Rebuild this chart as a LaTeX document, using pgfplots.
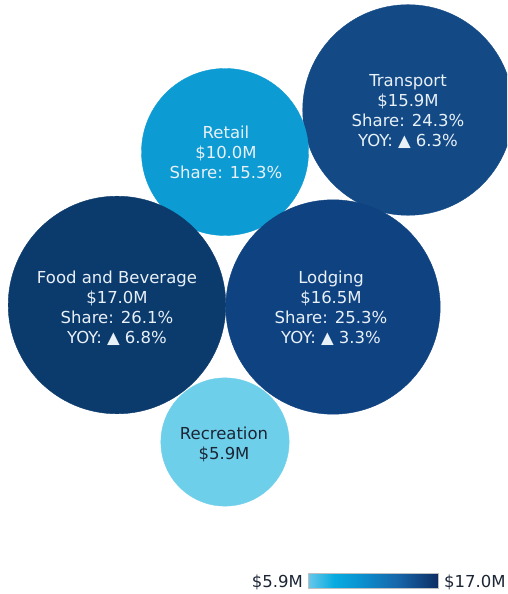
\documentclass[border=0pt]{standalone}
\usepackage{pgfplots}
\pgfplotsset{compat=1.18}
\usepackage{fontspec}
\setmainfont{DejaVu Sans}
\definecolor{cFood}{HTML}{0B3A6C}
\definecolor{cTrans}{HTML}{134A85}
\definecolor{cLodg}{HTML}{0F4280}
\definecolor{cRetail}{HTML}{0C9BD3}
\definecolor{cRec}{HTML}{6ECFEA}
\definecolor{txtL}{HTML}{E8F0F8}
\definecolor{txtD}{HTML}{1B2535}
\newcommand{\lbl}{\fontsize{16.5}{20}\selectfont}
\begin{document}
\begin{tikzpicture}
\useasboundingbox (0,0) rectangle (507pt,594pt);
\begin{axis}[at={(0,0)}, anchor=south west, scale only axis,
  width=507pt, height=594pt, xmin=0, xmax=507, ymin=0, ymax=594,
  hide axis, clip marker paths=true,
  colormap={bub}{rgb255(0)=(105,200,234) rgb255(2)=(8,172,224) rgb255(4)=(10,146,208) rgb255(7)=(22,100,168) rgb255(10)=(14,46,100)},
  point meta min=5.9, point meta max=17.0,
  colorbar horizontal,
  colorbar style={at={(0.6075,0.0101)}, anchor=south west, scale only axis,
    width=130pt, height=15pt, xtick=\empty, xticklabels={},
    axis line style={draw=black!25}}]
\addplot[cTrans, only marks, mark=*, mark size=105.3pt, mark options={draw=none, fill=cTrans}] coordinates {(408,484)};
\addplot[cRetail, only marks, mark=*, mark size=83.5pt, mark options={draw=none, fill=cRetail}] coordinates {(225,442)};
\addplot[cFood, only marks, mark=*, mark size=108.8pt, mark options={draw=none, fill=cFood}] coordinates {(117,289)};
\addplot[cLodg, only marks, mark=*, mark size=107.2pt, mark options={draw=none, fill=cLodg}] coordinates {(333,287)};
\addplot[cRec, only marks, mark=*, mark size=64.1pt, mark options={draw=none, fill=cRec}] coordinates {(225,152)};
\node[text=txtL, align=center, font=\lbl] at (axis cs:408,482) {Transport\\\$15.9M\\Share: 24.3\%\\YOY: ▲ 6.3\%};
\node[text=txtL, align=center, font=\lbl] at (axis cs:226,442) {Retail\\\$10.0M\\Share: 15.3\%};
\node[text=txtL, align=center, font=\lbl] at (axis cs:117,286) {Food and Beverage\\\$17.0M\\Share: 26.1\%\\YOY: ▲ 6.8\%};
\node[text=txtL, align=center, font=\lbl] at (axis cs:331,286) {Lodging\\\$16.5M\\Share: 25.3\%\\YOY: ▲ 3.3\%};
\node[text=txtD, align=center, font=\lbl] at (axis cs:224,150) {Recreation\\\$5.9M};
\node[text=txtD, anchor=base east, font=\lbl, inner sep=0pt] at (axis cs:303,6) {\$5.9M};
\node[text=txtD, anchor=base west, font=\lbl, inner sep=0pt] at (axis cs:444,6) {\$17.0M};
\end{axis}
\end{tikzpicture}
\end{document}
